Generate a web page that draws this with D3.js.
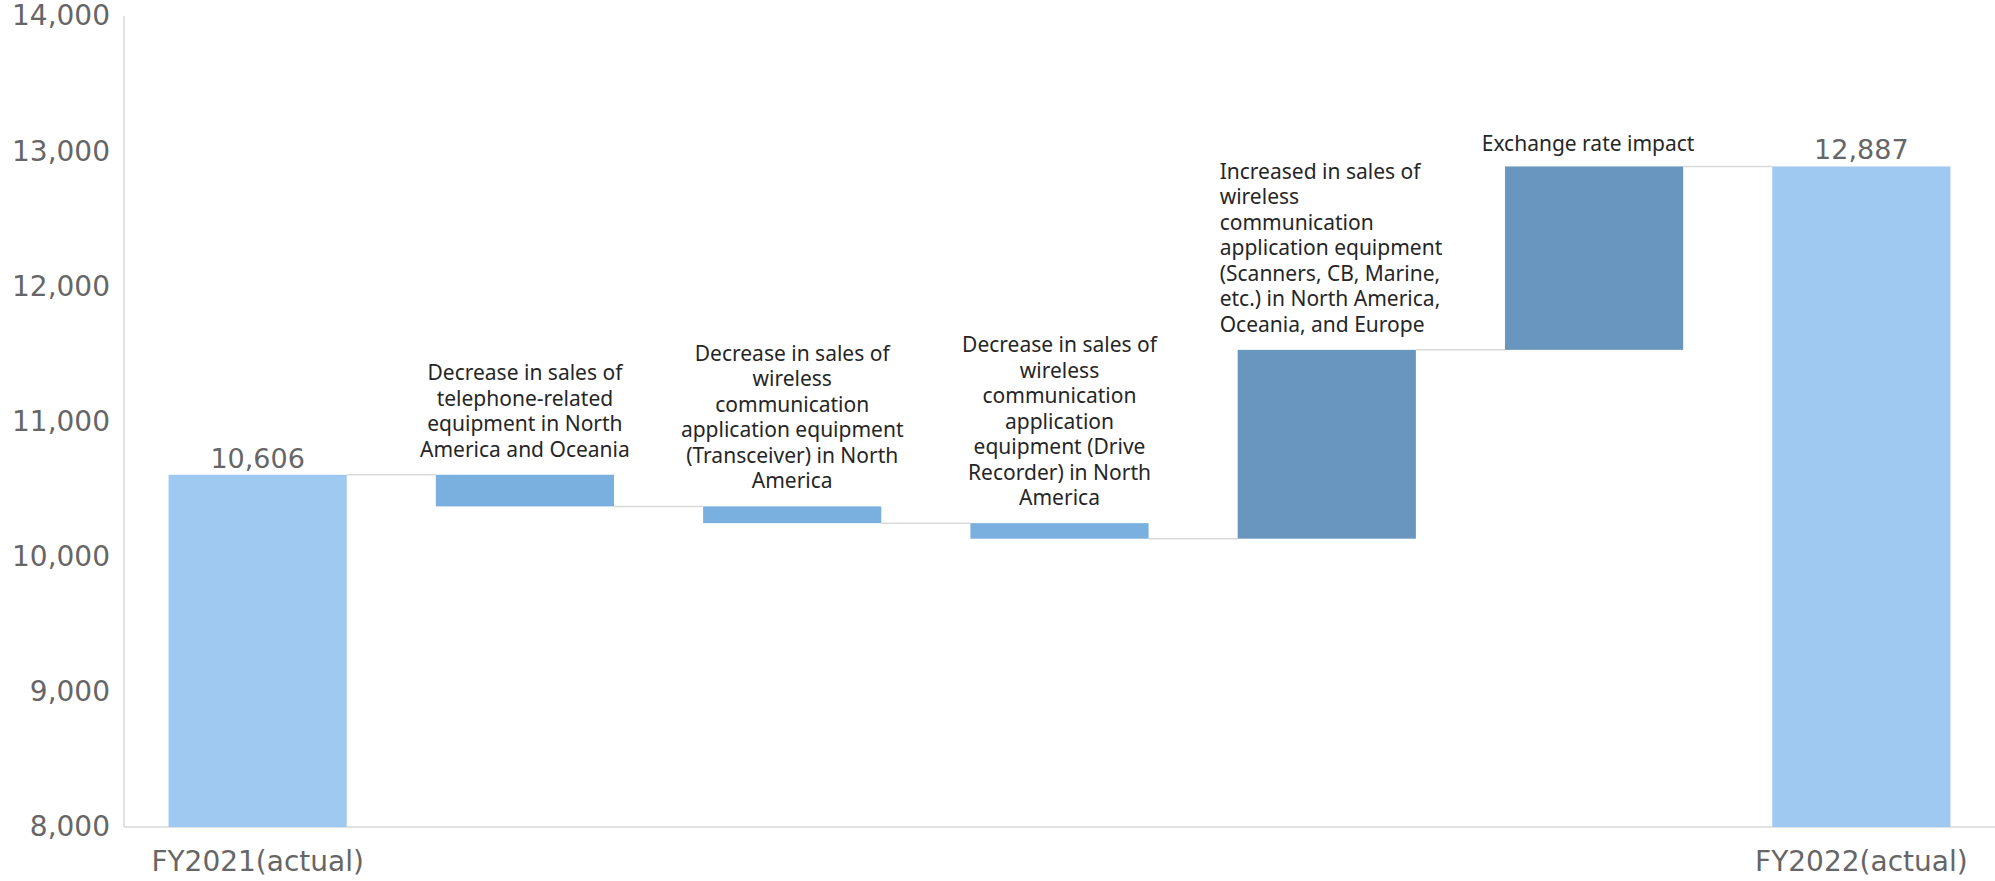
<!DOCTYPE html>
<html>
<head>
<meta charset="utf-8">
<script src="https://cdn.jsdelivr.net/npm/d3@7"></script>
<style>
  html, body { margin: 0; padding: 0; background: #fff; }
  svg { display: block; }
</style>
</head>
<body>
<svg id="chart" width="1995" height="881"></svg>
<script>
// ---- data ----
const categories = ["FY2021(actual)", "c2", "c3", "c4", "c5", "c6", "FY2022(actual)"];
const axisLabels = ["FY2021(actual)", "", "", "", "", "", "FY2022(actual)"];
const kinds = ["total", "down", "down", "down", "up", "up", "total"];
const values = [10606, -234, -124, -115, 1397, 1357, 12887];
const dataLabels = ["10,606", "", "", "", "", "", "12,887"];
const annotations = [
  [],
  ["Decrease in sales of", "telephone-related", "equipment in North", "America and Oceania"],
  ["Decrease in sales of", "wireless", "communication", "application equipment", "(Transceiver) in North", "America"],
  ["Decrease in sales of", "wireless", "communication", "application", "equipment (Drive", "Recorder) in North", "America"],
  ["Increased in sales of", "wireless", "communication", "application equipment", "(Scanners, CB, Marine,", "etc.) in North America,", "Oceania, and Europe"],
  ["Exchange rate impact"],
  []
];
const yTicks = [8000, 9000, 10000, 11000, 12000, 13000, 14000];

// ---- build waterfall ----
let running = 0;
const bars = categories.map((c, i) => {
  let lo, hi;
  if (kinds[i] === "total") { lo = 8000; hi = values[i]; running = values[i]; }
  else { const prev = running; running = prev + values[i]; lo = Math.min(prev, running); hi = Math.max(prev, running); }
  return { cat: c, i, kind: kinds[i], lo, hi, end: running };
});

const svg = d3.select("#chart");
const x = d3.scaleBand().domain(categories).range([124, 1995]).paddingInner(1/3).paddingOuter(1/6);
const y = d3.scaleLinear().domain([8000, 14000]).range([827, 16]);

const colors = { total: "#A0C9F1", down: "#79B0E0", up: "#6896BE" };

// axes lines
svg.append("line").attr("x1", 124).attr("x2", 124).attr("y1", y(14000)).attr("y2", y(8000))
  .attr("stroke", "#D9D9D9").attr("stroke-width", 1.5);
svg.append("line").attr("x1", 124).attr("x2", 1995).attr("y1", y(8000)).attr("y2", y(8000))
  .attr("stroke", "#D9D9D9").attr("stroke-width", 1.5);

// y tick labels
const yAxis = d3.axisLeft(y).tickValues(yTicks).tickFormat(d3.format(",")).tickSize(0).tickPadding(0);
const gy = svg.append("g").attr("transform", "translate(110,0)").call(yAxis);
gy.select(".domain").remove();
gy.selectAll("text").attr("font-family", "DejaVu Sans, Verdana, sans-serif").attr("font-size", 28)
  .attr("fill", "#666666");

// connectors
bars.slice(0, -1).forEach((b, i) => {
  const nx = bars[i + 1];
  svg.append("line")
    .attr("x1", x(b.cat) + x.bandwidth()).attr("x2", x(nx.cat))
    .attr("y1", y(b.end)).attr("y2", y(b.end))
    .attr("stroke", "#D9D9D9").attr("stroke-width", 1.5);
});

// bars
svg.append("g").selectAll("rect").data(bars).join("rect")
  .attr("x", d => x(d.cat))
  .attr("width", x.bandwidth())
  .attr("y", d => y(d.hi))
  .attr("height", d => y(d.lo) - y(d.hi))
  .attr("fill", d => colors[d.kind]);

// data labels
svg.append("g").selectAll("text").data(bars.filter(d => dataLabels[d.i])).join("text")
  .attr("x", d => x(d.cat) + x.bandwidth() / 2)
  .attr("y", d => y(d.hi) - 7)
  .attr("text-anchor", "middle")
  .attr("font-family", "DejaVu Sans, Verdana, sans-serif").attr("font-size", 27)
  .attr("fill", "#666666")
  .text(d => dataLabels[d.i]);

// category labels
svg.append("g").selectAll("text").data(bars).join("text")
  .attr("x", d => x(d.cat) + x.bandwidth() / 2)
  .attr("y", 871)
  .attr("text-anchor", "middle")
  .attr("font-family", "DejaVu Sans, Verdana, sans-serif").attr("font-size", 28)
  .attr("fill", "#666666")
  .text(d => axisLabels[d.i]);

// annotations
const lh = 25.5;
bars.forEach(b => {
  const lines = annotations[b.i];
  if (!lines.length) return;
  const cx = x(b.cat) + x.bandwidth() / 2;
  const leftAligned = b.i === 4;
  const tx = leftAligned ? x(b.cat) - 18 : (b.i === 5 ? cx - 6 : cx);
  const lastBaseline = y(b.hi) - (b.i === 5 ? 15 : 18);
  const t = svg.append("text")
    .attr("font-family", "Noto Sans, sans-serif")
    .attr("font-size", 21)
    .attr("fill", "#262626")
    .attr("text-anchor", leftAligned ? "start" : "middle");
  lines.forEach((ln, k) => {
    t.append("tspan").attr("x", tx)
      .attr("y", lastBaseline - (lines.length - 1 - k) * lh)
      .text(ln);
  });
});
</script>
</body>
</html>
